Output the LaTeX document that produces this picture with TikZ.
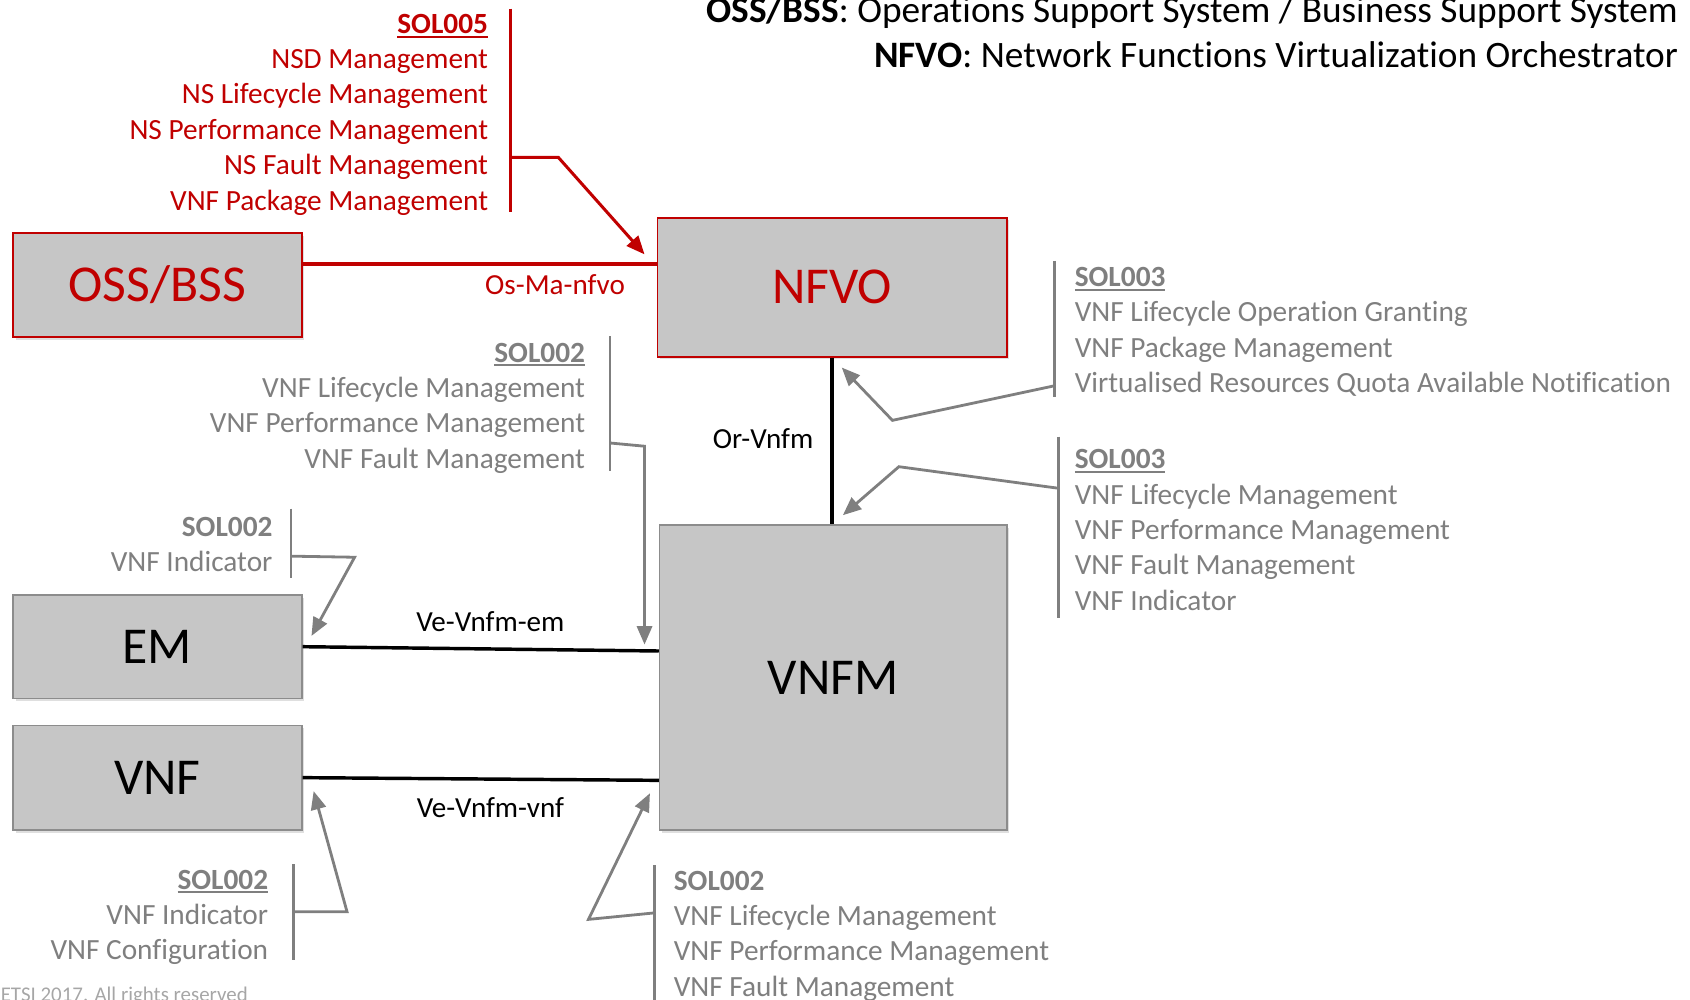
\documentclass[tikz,border=0pt]{standalone}
\usepackage{fontspec}
\setmainfont{Carlito}[Ligatures=NoCommon]
\usepackage{tikz}
\usetikzlibrary{arrows.meta,positioning,shadows}

\definecolor{etsired}{HTML}{C00000}
\definecolor{solgray}{HTML}{7F7F7F}
\definecolor{boxfill}{HTML}{C6C6C6}
\definecolor{boxline}{HTML}{8C8C8C}
\definecolor{footgray}{HTML}{A6A6A6}

% bold heading with a thick underline
\newcommand{\solul}[1]{\sbox0{\textbf{#1}}\rlap{\rule[-4pt]{\wd0}{1.8pt}}\usebox0}

\begin{document}
\begin{tikzpicture}[
    x=1pt, y=-1pt,
    box/.style={rectangle, draw=boxline, line width=1.6, fill=boxfill, minimum width=268, minimum height=96, font=\fontsize{48}{58}\selectfont, drop shadow={shadow xshift=2.5pt, shadow yshift=-2.5pt, opacity=0.25}},
    redbox/.style={box, draw=etsired, text=etsired},
    sollist/.style={inner sep=0pt, font=\fontsize{27.2}{32.8}\selectfont, text=solgray},
    redlist/.style={sollist, text=etsired},
    bar/.style={draw=solgray, line width=2.6},
    redbar/.style={draw=etsired, line width=2.6},
    refline/.style={draw=solgray, line width=2.6, -{Triangle[length=17pt,width=14pt]}},
    redref/.style={draw=etsired, line width=2.8, -{Triangle[length=17pt,width=14pt]}},
    ifline/.style={draw=black, line width=3.2},
    osline/.style={draw=etsired, line width=3.5},
    iflabel/.style={inner sep=0pt, font=\fontsize{27}{32}\selectfont}
]

\path[use as bounding box] (0,0) rectangle (1568,927);
\clip (0,0) rectangle (1568,927);

% Legend
\node [anchor=north east, align=right, inner sep=0pt, font=\fontsize{34.6}{41}\selectfont] (legend) at (1557,-7.7) {\strut\textbf{OSS/BSS}: Operations Support System / Business Support System\\\textbf{NFVO}: Network Functions Virtualization Orchestrator};

% Boxes
\node [redbox] (oss) at (146,264.5) {OSS/BSS};
\node [redbox, minimum width=324, minimum height=129] (nfvo) at (772,266.5) {NFVO};
\node [box, minimum width=322, minimum height=283] (vnfm) at (773,628.5) {VNFM};
\node [box] (em) at (146,600) {EM};
\node [box, minimum height=97] (vnf) at (146,721.5) {VNF};

% Specification lists
\node [redlist, anchor=north east, align=right] (sol005) at (453,7.7) {\strut\solul{SOL005}\\NSD Management\\NS Lifecycle Management\\NS Performance Management\\NS Fault Management\\VNF Package Management};
\node [sollist, anchor=north east, align=right] (sol002vnfm) at (543,312.7) {\strut\solul{SOL002}\\VNF Lifecycle Management\\VNF Performance Management\\VNF Fault Management};
\node [sollist, anchor=north west, align=left] (sol003nfvo) at (997,242.7) {\strut\solul{SOL003}\\VNF Lifecycle Operation Granting\\VNF Package Management\\Virtualised Resources Quota Available Notification};
\node [sollist, anchor=north west, align=left] (sol003vnfm) at (997,411.7) {\strut\solul{SOL003}\\VNF Lifecycle Management\\VNF Performance Management\\VNF Fault Management\\VNF Indicator};
\node [sollist, anchor=north east, align=right] (sol002em) at (253,474.7) {\strut\textbf{SOL002}\\VNF Indicator};
\node [sollist, anchor=north east, align=right] (sol002vnf) at (249,801.7) {\strut\solul{SOL002}\\VNF Indicator\\VNF Configuration};
\node [sollist, anchor=north west, align=left] (sol002low) at (625,802.7) {\strut\textbf{SOL002}\\VNF Lifecycle Management\\VNF Performance Management\\VNF Fault Management};

% Copyright
\node [anchor=base west, inner sep=0pt, font=\fontsize{19.4}{23}\selectfont, text=footgray] (copyright) at (0.5,929) {ETSI 2017. All rights reserved};

% Reference points
\coordinate (sol005top) at (474,8);
\coordinate (sol005bot) at (474,197);
\coordinate (sol005out) at (474,146);
\coordinate (sol005bend) at (518,146);
\coordinate (sol005tip) at (598,236);

\coordinate (sol002vnfmtop) at (566,312);
\coordinate (sol002vnfmbot) at (566,437);
\coordinate (sol002vnfmout) at (566,411);
\coordinate (sol002vnfmbend) at (598,414);
\coordinate (sol002vnfmtip) at (598,598);

\coordinate (sol003nfvotop) at (978,242);
\coordinate (sol003nfvobot) at (978,368);
\coordinate (sol003nfvoout) at (978,358);
\coordinate (sol003nfvobend) at (828,390);
\coordinate (sol003nfvotip) at (781,341);

\coordinate (sol003vnfmtop) at (982,405);
\coordinate (sol003vnfmbot) at (982,573);
\coordinate (sol003vnfmout) at (982,453);
\coordinate (sol003vnfmbend) at (834,433);
\coordinate (sol003vnfmtip) at (782,478);

\coordinate (sol002emtop) at (270,472);
\coordinate (sol002embot) at (270,536);
\coordinate (sol002emout) at (270,516);
\coordinate (sol002embend) at (329,517);
\coordinate (sol002emtip) at (289,590);

\coordinate (sol002vnftop) at (272,802);
\coordinate (sol002vnfbot) at (272,891);
\coordinate (sol002vnfout) at (272,846);
\coordinate (sol002vnfbend) at (322,846);
\coordinate (sol002vnftip) at (291,734);

\coordinate (sol002lowtop) at (607,803);
\coordinate (sol002lowbot) at (607,930);
\coordinate (sol002lowout) at (607,847);
\coordinate (sol002lowbend) at (546,853);
\coordinate (sol002lowtip) at (603,736);

% Bars and reference arrows
\path [redbar] (sol005top) -- (sol005bot);
\path [redref] (sol005out) -- (sol005bend) -- (sol005tip);

\foreach \s in {sol002vnfm, sol003nfvo, sol003vnfm, sol002em, sol002vnf, sol002low} {
    \path [bar] (\s top) -- (\s bot);
    \path [refline] (\s out) -- (\s bend) -- (\s tip);
}

% Interfaces
\coordinate (osma) at (0,245);
\path [osline] (oss.east |- osma) -- (nfvo.west |- osma);
\node [iflabel, text=etsired] (osmalabel) at (515,264) {Os-Ma-nfvo};

\path [ifline] (nfvo.south) -- (nfvo.south |- vnfm.north);
\node [iflabel] (orvnfm) at (708,407) {Or-Vnfm};

\path [ifline] (em.east) -- (vnfm.west |- 0,604);
\node [iflabel] (vevnfmem) at (455,577) {Ve-Vnfm-em};

\path [ifline] (vnf.east) -- (vnfm.west |- 0,724);
\node [iflabel] (vevnfmvnf) at (455,749) {Ve-Vnfm-vnf};

\end{tikzpicture}
\end{document}
